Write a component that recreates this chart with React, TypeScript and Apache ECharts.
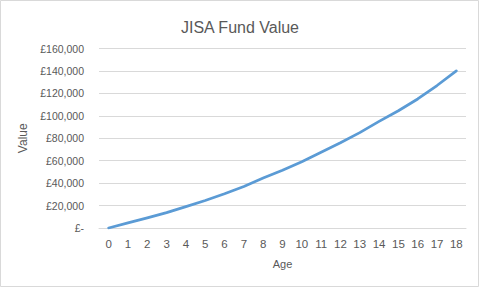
import React, { useEffect, useRef } from "react";
import * as echarts from "echarts";

const ages = ["0","1","2","3","4","5","6","7","8","9","10","11","12","13","14","15","16","17","18"];
const fundValue = [0, 4500, 9000, 13700, 19000, 24500, 30500, 37000, 44500, 51500, 59000, 67500, 76000, 85000, 95000, 104500, 115000, 127000, 140000];
const yTicks = { min: 0, max: 160000, interval: 20000 };

const FONT = "'Liberation Sans', Arial, sans-serif";
const GREY = "#595959";

export default function App() {
  const ref = useRef<HTMLDivElement>(null);
  useEffect(() => {
    if (!ref.current) return;
    const chart = echarts.init(ref.current, undefined, { renderer: "svg" });
    chart.setOption({
      animation: false,
      backgroundColor: "#fff",
      title: {
        text: "JISA Fund Value",
        left: "center",
        top: 14,
        textStyle: { fontFamily: FONT, fontSize: 16, fontWeight: "normal", color: GREY },
      },
      graphic: [
        {
          type: "rect",
          shape: { x: 0.5, y: 0.5, width: 478, height: 286 },
          style: { fill: "none", stroke: "#D9D9D9", lineWidth: 1 },
          silent: true,
        },
      ],
      grid: { left: 99, right: 14, top: 48.5, bottom: 60 },
      xAxis: {
        type: "category",
        data: ages,
        boundaryGap: true,
        name: "Age",
        nameLocation: "middle",
        nameGap: 30,
        nameTextStyle: { fontFamily: FONT, fontSize: 11, color: GREY },
        axisLine: { show: true, lineStyle: { color: "#D9D9D9" } },
        axisTick: { show: false },
        axisLabel: { fontFamily: FONT, fontSize: 11.5, color: GREY, margin: 10, interval: 0 },
      },
      yAxis: {
        type: "value",
        min: yTicks.min,
        max: yTicks.max,
        interval: yTicks.interval,
        name: "Value",
        nameLocation: "middle",
        nameGap: 69,
        nameTextStyle: { fontFamily: FONT, fontSize: 12, color: GREY },
        axisLine: { show: false },
        axisTick: { show: false },
        splitLine: { lineStyle: { color: "#D9D9D9", width: 1 } },
        axisLabel: {
          fontFamily: FONT,
          fontSize: 10.5,
          color: GREY,
          margin: 15,
          formatter: (v: number) => (v === 0 ? "£-" : "£" + v.toLocaleString("en-GB")),
        },
      },
      series: [
        {
          type: "line",
          data: fundValue,
          showSymbol: false,
          smooth: false,
          lineStyle: { color: "#5B9BD5", width: 2.75, cap: "round", join: "round" },
          itemStyle: { color: "#5B9BD5" },
        },
      ],
    });
    return () => chart.dispose();
  }, []);
  return <div ref={ref} style={{ position: "fixed", left: 0, top: 0, width: 480, height: 288 }} />;
}
